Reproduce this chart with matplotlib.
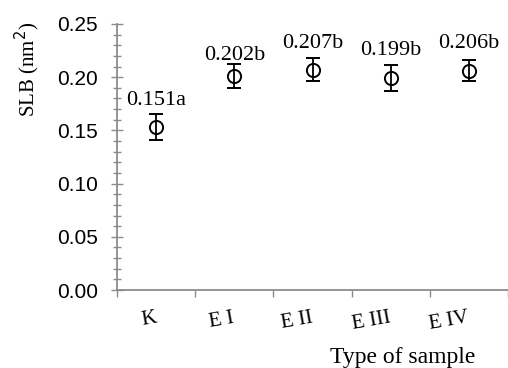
import matplotlib.pyplot as plt
from matplotlib.ticker import MultipleLocator

samples = ['K', 'E I', 'E II', 'E III', 'E IV']
slb_mean = [0.153, 0.201, 0.207, 0.199, 0.206]
slb_err = [0.012, 0.011, 0.011, 0.012, 0.010]
labels = ['0.151a', '0.202b', '0.207b', '0.199b', '0.206b']

serif = 'Liberation Serif'
grey = '#8c8c8c'

fig = plt.figure(figsize=(5.08, 3.68), dpi=100)
ax = fig.add_axes([117 / 508, 1 - 290 / 368, 391 / 508, 266 / 368])

x = list(range(len(samples)))
ax.errorbar(x, slb_mean, yerr=slb_err, fmt='o', mfc='none', mec='black',
            ecolor='black', ms=9.5, mew=1.4, elinewidth=1.3, capsize=5, capthick=1.3)

# label offsets in points (E I sits a bit lower in the original)
label_dy = [19, 15, 19, 20, 20]
for xi, yi, lab, dy in zip(x, slb_mean, labels, label_dy):
    ax.annotate(lab, (xi, yi), xytext=(0, dy), textcoords='offset points',
                ha='center', va='center', fontsize=16, family=serif)

ax.set_xlim(-0.5, 4.45)
ax.set_ylim(0, 0.25)

# category ticks at the boundaries, labels in the middle
ax.set_xticks([i - 0.5 for i in range(len(samples) + 1)])
ax.set_xticklabels([])
ax.set_xticks(x, minor=True)
ax.set_xticklabels(samples, minor=True, rotation=10, ha='right', va='center',
                   rotation_mode='anchor', family=serif, fontsize=15)
ax.tick_params(axis='x', which='major', direction='out', length=5, color=grey, width=1)
ax.tick_params(axis='x', which='minor', length=0, pad=20)

ax.yaxis.set_major_locator(MultipleLocator(0.05))
ax.yaxis.set_minor_locator(MultipleLocator(0.01))
ax.yaxis.set_major_formatter(plt.FormatStrFormatter('%.2f'))
ax.tick_params(axis='y', which='major', direction='inout', length=9, color=grey, width=1,
               labelsize=15, pad=9)
ax.tick_params(axis='y', which='minor', direction='inout', length=6, color=grey, width=1)
for t in ax.get_yticklabels():
    t.set_family('Liberation Sans')

for s in ['top', 'right']:
    ax.spines[s].set_visible(False)
for s in ['left', 'bottom']:
    ax.spines[s].set_color(grey)
    ax.spines[s].set_linewidth(1.3)

ax.set_ylabel('SLB (nm$^2$)', family=serif, fontsize=15, va='center', ha='center')
ax.yaxis.set_label_coords(-0.23, 0.83)
ax.set_xlabel('Type of sample', family=serif, fontsize=17, va='center', ha='center')
ax.xaxis.set_label_coords(0.731, -0.252)

fig.savefig('out.png', dpi=100)
